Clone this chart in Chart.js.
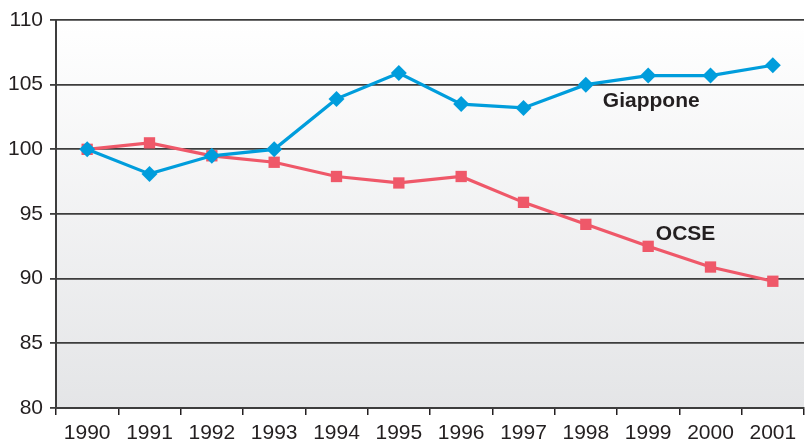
<!DOCTYPE html>
<html>
<head>
<meta charset="utf-8">
<script src="https://cdn.jsdelivr.net/npm/chart.js@4"></script>
<style>
  html, body { margin: 0; padding: 0; background: #fff; overflow: hidden; }
  #grafico { display: block; }
</style>
</head>
<body>
<canvas id="grafico" width="812" height="441"></canvas>
<script>
const anni = ["1990", "1991", "1992", "1993", "1994", "1995", "1996", "1997", "1998", "1999", "2000", "2001"];
const giappone = [100, 98.1, 99.5, 100, 103.9, 105.9, 103.5, 103.2, 105.0, 105.7, 105.7, 106.5];
const ocse = [100, 100.5, 99.5, 99.0, 97.9, 97.4, 97.9, 95.9, 94.2, 92.5, 90.9, 89.8];
const tickY = [80, 85, 90, 95, 100, 105, 110];

const colTesto = "#231f20";
const colGriglia = "#3d3d3d";

// sfondo sfumato dell'area del grafico
const sfondo = {
    id: "sfondo",
    beforeDraw(chart) {
        const { ctx, chartArea: a } = chart;
        const g = ctx.createLinearGradient(0, a.top, 0, a.bottom);
        g.addColorStop(0, "#ffffff");
        g.addColorStop(1, "#e4e5e7");
        ctx.save();
        ctx.fillStyle = g;
        ctx.fillRect(a.left, a.top, a.right - a.left, a.bottom - a.top);
        ctx.restore();
    }
};

// etichette delle serie dentro il grafico
const etichette = {
    id: "etichette",
    afterDatasetsDraw(chart) {
        const { ctx, scales } = chart;
        const voci = [
            { testo: "Giappone", i: 9.05, v: 103.75 },
            { testo: "OCSE", i: 9.6, v: 93.45 }
        ];
        ctx.save();
        ctx.font = "bold 21px 'Liberation Sans', Arial, sans-serif";
        ctx.fillStyle = colTesto;
        ctx.textAlign = "center";
        ctx.textBaseline = "middle";
        voci.forEach(e => {
            const x = scales.x.getPixelForValue(e.i);
            const y = scales.y.getPixelForValue(e.v);
            ctx.fillText(e.testo, x, y);
        });
        ctx.restore();
    }
};

const ctx = document.getElementById("grafico");

new Chart(ctx, {
    type: "line",
    data: {
        labels: anni,
        datasets: [
            {
                label: "Giappone",
                data: giappone,
                borderColor: "#009ddc",
                backgroundColor: "#009ddc",
                borderWidth: 3.2,
                pointStyle: "rectRot",
                pointRadius: 8,
                pointBorderWidth: 0,
                tension: 0
            },
            {
                label: "OCSE",
                data: ocse,
                borderColor: "#ef5869",
                backgroundColor: "#ef5869",
                borderWidth: 3.2,
                pointStyle: "rect",
                pointRadius: 8,
                pointBorderWidth: 0,
                tension: 0
            }
        ]
    },
    options: {
        responsive: false,
        animation: false,
        layout: { padding: { top: 20, right: 0, left: 0, bottom: 0 } },
        plugins: {
            legend: { display: false },
            tooltip: { enabled: false }
        },
        scales: {
            x: {
                offset: true,
                grid: {
                    offset: true,
                    drawOnChartArea: false,
                    drawTicks: true,
                    tickLength: 7,
                    color: colTesto,
                    lineWidth: 1.5
                },
                border: { display: true, color: colGriglia, width: 2 },
                ticks: {
                    color: colTesto,
                    font: { family: "'Liberation Sans', Arial, sans-serif", size: 21 },
                    padding: 6,
                    maxRotation: 0,
                    autoSkip: false
                },
                afterFit(s) { s.height = 33; }
            },
            y: {
                min: 80,
                max: 110,
                afterBuildTicks(s) { s.ticks = tickY.map(v => ({ value: v })); },
                grid: {
                    color: colGriglia,
                    lineWidth: 1.8,
                    drawTicks: true,
                    tickLength: 6
                },
                border: { display: true, color: colGriglia, width: 2 },
                ticks: {
                    color: colTesto,
                    font: { family: "'Liberation Sans', Arial, sans-serif", size: 21 },
                    padding: 7
                },
                afterFit(s) { s.width = 56; }
            }
        }
    },
    plugins: [sfondo, etichette]
});
</script>
</body>
</html>
